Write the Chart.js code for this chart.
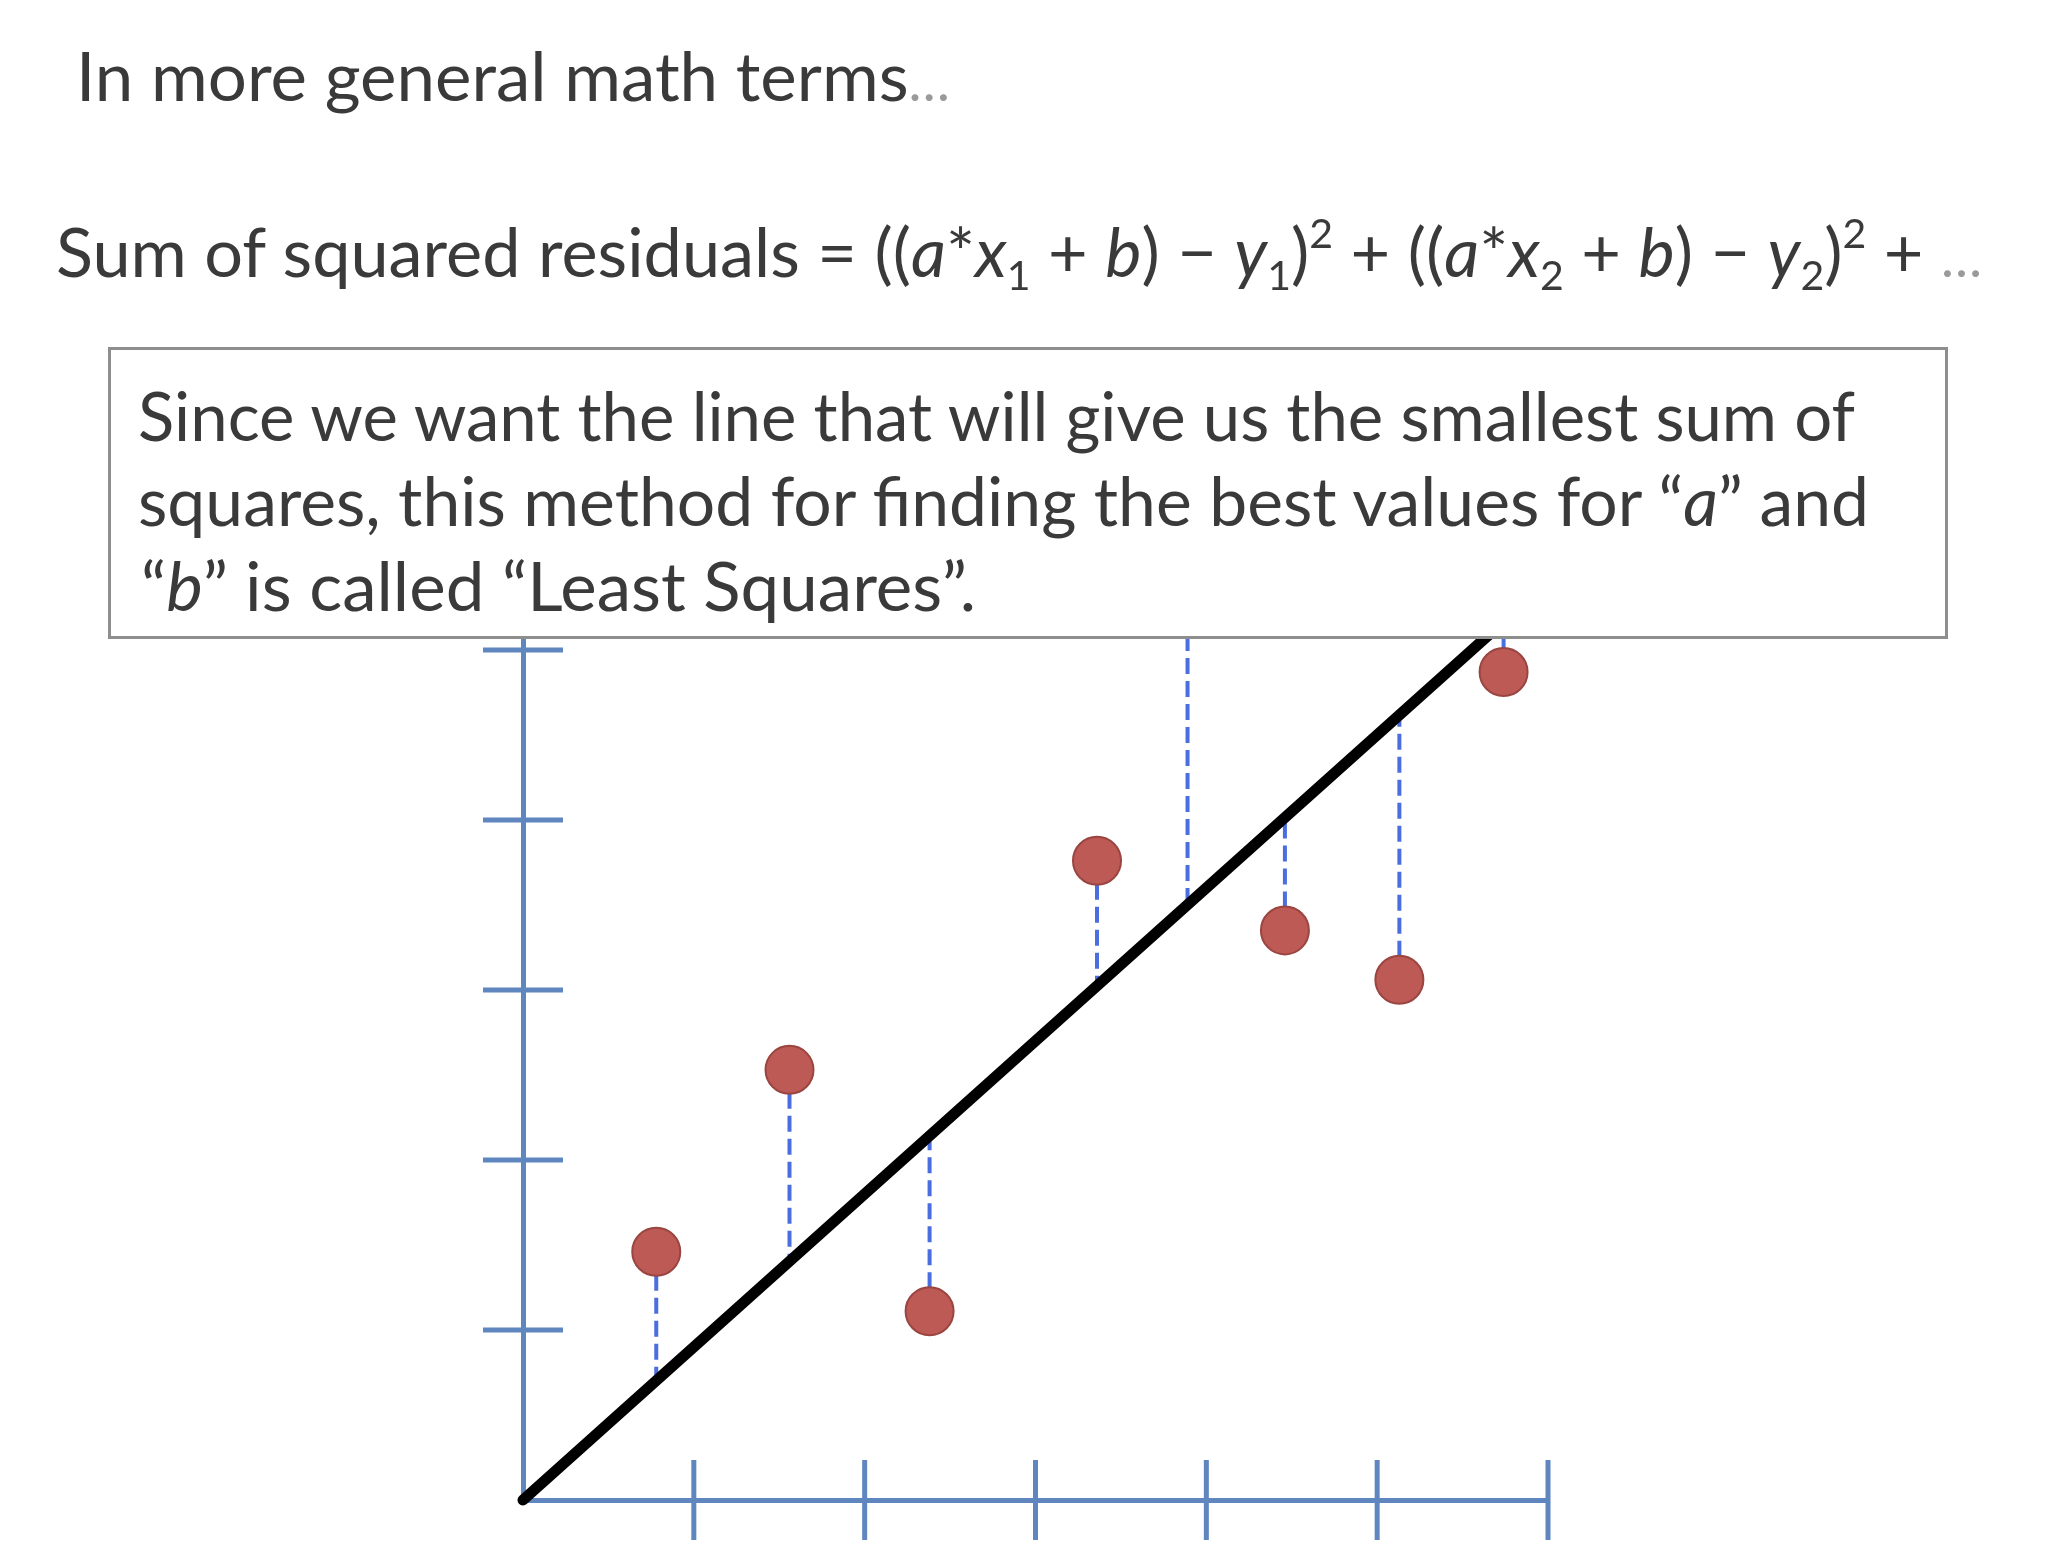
<!DOCTYPE html>
<html>
<head>
<meta charset="utf-8">
<script src="https://cdn.jsdelivr.net/npm/chart.js@4.4.1/dist/chart.umd.min.js"></script>
<style>
  body { margin: 0; width: 2050px; height: 1562px; background: #fff; position: relative; overflow: hidden;
         font-family: Lato, "Open Sans", sans-serif; color: #3a3a3a; }
  #c { position: absolute; left: 0; top: 0; }
  .ln { position: absolute; font-size: 68px; line-height: 68px; white-space: nowrap; transform-origin: 0 0; }
  .dots { color: #9a9a9a; font-size: 0.8em; }
  .sb { font-size: 0.6em; position: relative; top: 0.32em; }
  .sp { font-size: 0.6em; position: relative; top: -0.72em; }
  #box { position: absolute; left: 108px; top: 347px; width: 1840px; height: 292px; box-sizing: border-box;
         border: 3px solid #8e8e8e; background: #fff; }
</style>
</head>
<body>
<canvas id="c" width="2050" height="1562"></canvas>

<div class="ln" data-w="874" style="left:76px;top:41px">In more general math terms<span class="dots">…</span></div>
<div class="ln" data-w="1926" style="left:56px;top:217px">Sum of squared residuals = ((<i>a</i>*<i>x</i><span class="sb">1</span> + <i>b</i>) − <i>y</i><span class="sb">1</span>)<span class="sp">2</span> + ((<i>a</i>*<i>x</i><span class="sb">2</span> + <i>b</i>) − <i>y</i><span class="sb">2</span>)<span class="sp">2</span> + <span class="dots">…</span></div>

<div id="box"></div>
<div class="ln" data-w="1717" style="left:138px;top:381px">Since we want the line that will give us the smallest sum of</div>
<div class="ln" data-w="1731" style="left:138px;top:466px">squares, this method for finding the best values for “<i>a</i>” and</div>
<div class="ln" data-w="835" style="left:141px;top:551px">“<i>b</i>” is called “Least Squares”.</div>

<script>
// observed points (the 5th sits under the text box)
const pointX = [0.78, 1.56, 2.38, 3.36, 3.89, 4.46, 5.13, 5.74];
const pointY = [1.46, 2.53, 1.11, 3.76, 5.9, 3.35, 3.06, 4.87];
// fitted line end points
const fitX = [0, 6];
const fitY = [0, 5.4];
const xTicks = [1, 2, 3, 4, 5, 6];
const yTicks = [1, 2, 3, 4, 5];

const axisBlue = '#5f86bf';

function onLine(x) {
  return fitY[0] + (x - fitX[0]) * (fitY[1] - fitY[0]) / (fitX[1] - fitX[0]);
}

const residuals = pointX.map((x, i) => ({
  type: 'line',
  data: [{x: x, y: pointY[i]}, {x: x, y: onLine(x)}],
  borderColor: '#4a6ee0',
  borderWidth: 4,
  borderDash: [16, 7],
  pointRadius: 0,
  clip: false,
  order: 2
}));

const crossTicks = {
  id: 'crossTicks',
  beforeDatasetsDraw(chart) {
    const {ctx, scales: {x, y}} = chart;
    const x0 = x.getPixelForValue(0), y0 = y.getPixelForValue(0);
    ctx.save();
    ctx.strokeStyle = axisBlue;
    ctx.lineWidth = 5;
    ctx.beginPath();
    xTicks.forEach(v => {
      const px = x.getPixelForValue(v);
      ctx.moveTo(px, y0 - 40);
      ctx.lineTo(px, y0 + 40);
    });
    yTicks.forEach(v => {
      const py = y.getPixelForValue(v);
      ctx.moveTo(x0 - 40, py);
      ctx.lineTo(x0 + 40, py);
    });
    ctx.stroke();
    ctx.restore();
  }
};

new Chart(document.getElementById('c'), {
  type: 'scatter',
  data: {
    datasets: [
      {
        data: pointX.map((x, i) => ({x: x, y: pointY[i]})),
        backgroundColor: '#bd5a55',
        borderColor: '#9a4541',
        borderWidth: 2,
        pointRadius: 24,
        clip: false,
        order: 0
      },
      {
        type: 'line',
        data: fitX.map((x, i) => ({x: x, y: fitY[i]})),
        borderColor: '#000',
        borderWidth: 11,
        borderCapStyle: 'round',
        pointRadius: 0,
        clip: false,
        order: 1
      },
      ...residuals
    ]
  },
  options: {
    responsive: false,
    animation: false,
    devicePixelRatio: 1,
    layout: {padding: {left: 523, right: 502, top: 638, bottom: 62}},
    plugins: {legend: {display: false}, tooltip: {enabled: false}},
    scales: {
      x: {
        type: 'linear', min: 0, max: 6,
        ticks: {display: false},
        grid: {display: false, drawTicks: false},
        border: {color: axisBlue, width: 5},
        afterFit(s) { s.height = 0; }
      },
      y: {
        type: 'linear', min: 0, max: 5.07,
        ticks: {display: false},
        grid: {display: false, drawTicks: false},
        border: {color: axisBlue, width: 5},
        afterFit(s) { s.width = 0; }
      }
    }
  },
  plugins: [crossTicks]
});

// squeeze each text line to the width it has in the slide
function fitLines() {
  document.querySelectorAll('.ln').forEach(el => {
    el.style.transform = 'none';
    const w = el.getBoundingClientRect().width;
    el.style.transform = 'scaleX(' + (el.dataset.w / w) + ')';
  });
}
fitLines();
document.fonts.ready.then(fitLines);
</script>
</body>
</html>
